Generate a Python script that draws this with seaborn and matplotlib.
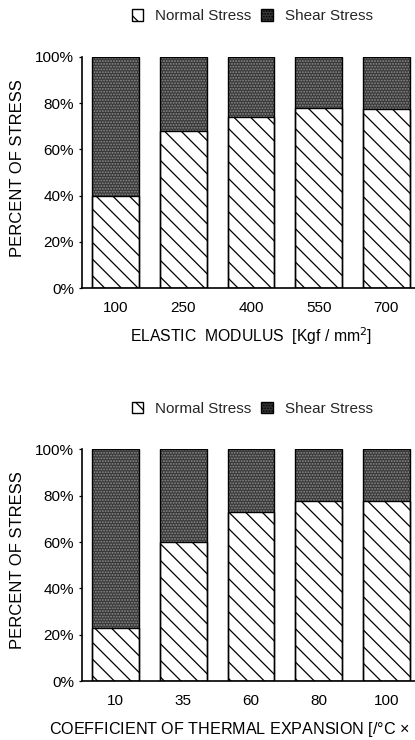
import numpy as np
import pandas as pd
import matplotlib
matplotlib.use("Agg")
import matplotlib.pyplot as plt
from matplotlib.patches import Patch
import seaborn as sns

sns.set_theme(style="ticks")
plt.rcParams["font.family"] = ["Liberation Sans", "DejaVu Sans"]
plt.rcParams["hatch.linewidth"] = 0.9

# Elastic modulus study
modulus_labels = ["100", "250", "400", "550", "700"]
modulus_normal = [40, 68, 74, 78, 77.5]
modulus_shear = [60, 32, 26, 22, 22.5]

# Thermal expansion study
cte_labels = ["10", "35", "60", "80", "100"]
cte_normal = [23, 60, 73, 77.5, 77.5]
cte_shear = [77, 40, 27, 22.5, 22.5]

series_names = ["Normal Stress", "Shear Stress"]
ytick_values = [0, 20, 40, 60, 80, 100]

SHEAR_FACE = "#383838"
SHEAR_DOTS = "#8c8c8c"
BAR_W = 0.69

fig = plt.figure(figsize=(4.15, 7.4), dpi=100)
ax_top = fig.add_axes([0.1969, 0.6108, 0.8157, 0.3122])
ax_bot = fig.add_axes([0.1969, 0.0797, 0.8157, 0.3131])


def stacked_panel(ax, labels, normal, shear, xlabel, xlabel_size):
    df = pd.DataFrame({"cat": labels,
                       "normal": normal,
                       "total": np.add(normal, shear)})
    # shear portion: stipple-like fill spanning the full stack
    sns.barplot(data=df, x="cat", y="total", order=labels, ax=ax,
                width=BAR_W, color=SHEAR_FACE, saturation=1,
                edgecolor=SHEAR_DOTS, linewidth=0, hatch="......")
    # normal portion: white with diagonal hatching
    sns.barplot(data=df, x="cat", y="normal", order=labels, ax=ax,
                width=BAR_W, color="white", saturation=1,
                edgecolor="black", linewidth=1.0, hatch="\\\\")
    # outline of the whole stack
    sns.barplot(data=df, x="cat", y="total", order=labels, ax=ax,
                width=BAR_W, fill=False, edgecolor="black", linewidth=1.0)

    ax.set_xlim(-0.5, 4.5)
    ax.set_ylim(0, 100)
    ax.set_yticks(ytick_values)
    ax.set_yticklabels([f"{v}%" for v in ytick_values])
    ax.tick_params(axis="y", length=2.5, width=0.9, pad=3, labelsize=11,
                   colors="black")
    ax.tick_params(axis="x", length=0, pad=9, labelsize=11, colors="black")
    ax.set_ylabel("PERCENT OF STRESS", fontsize=12, color="black")
    ax.yaxis.set_label_coords(-0.167, 0.52)
    ax.set_xlabel(xlabel, fontsize=xlabel_size, color="black", labelpad=8)
    sns.despine(ax=ax)
    for side in ("left", "bottom"):
        ax.spines[side].set_linewidth(1.2)
        ax.spines[side].set_color("black")


stacked_panel(ax_top, modulus_labels, modulus_normal, modulus_shear,
              "ELASTIC  MODULUS  [Kgf / mm$^2$]", 11.3)
stacked_panel(ax_bot, cte_labels, cte_normal, cte_shear,
              "COEFFICIENT OF THERMAL EXPANSION [/°C × 10$^{-7}$]", 11.6)

handles = [
    Patch(facecolor="white", edgecolor="black", hatch="\\\\", linewidth=1.0),
    Patch(facecolor=SHEAR_FACE, edgecolor="black", hatch="......",
          linewidth=1.0),
]
for y in (0.978, 0.447):
    fig.legend(handles, series_names, loc="center",
               bbox_to_anchor=(0.608, y), ncol=2, frameon=False,
               fontsize=11, handlelength=0.75, handleheight=0.75,
               handletextpad=0.8, columnspacing=0.65, borderpad=0)

fig.savefig("out.png", dpi=100)
